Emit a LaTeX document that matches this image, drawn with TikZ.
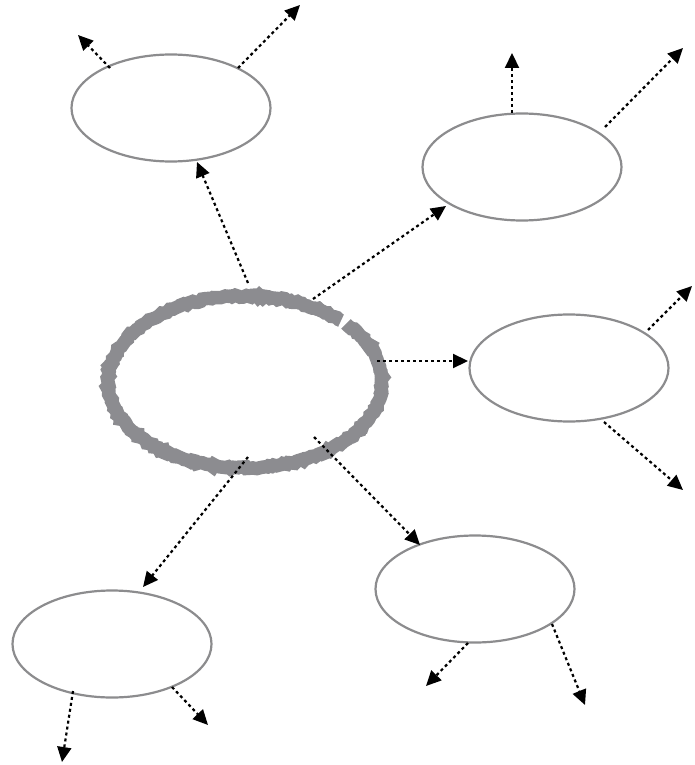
\documentclass[tikz,border=0pt]{standalone}
\usetikzlibrary{arrows.meta,shapes.geometric,calc,decorations.pathmorphing}
\definecolor{rim}{RGB}{140,140,142}
\definecolor{ring}{RGB}{140,140,144}
\begin{document}
\begin{tikzpicture}[x=1pt,y=-1pt,
  bub/.style={ellipse, draw=rim, line width=2.2pt, minimum width=199pt, minimum height=107pt, inner sep=0pt, outer sep=0pt},
  conn/.style={line width=2.2pt, dash pattern=on 3pt off 3pt, -{Triangle[length=15pt,width=14pt]}},
]
\useasboundingbox (0,0) rectangle (694,765);
\pgfmathsetseed{7}
% central ring
\node[ellipse, minimum width=286pt, minimum height=184pt, inner sep=0pt] (C) at (245,382) {};
\draw[ring, line width=13.5pt, decorate, decoration={random steps, segment length=2.5pt, amplitude=1.2pt}]
  (C.center) ++(45.5:137pt and 86pt) arc[start angle=45.5, end angle=402.5, x radius=137pt, y radius=86pt];
% outer ellipses
\node[bub] (tl) at (171,108) {};
\node[bub] (tr) at (522,167) {};
\node[bub] (r) at (569,368) {};
\node[bub] (br) at (475,589) {};
\node[bub] (bl) at (112,644) {};
% free ends
\coordinate (tl1) at (78,35);
\coordinate (tl2) at (300,5);
\coordinate (tr1) at (512,53);
\coordinate (tr2) at (683,48);
\coordinate (r1) at (692,286);
\coordinate (r2) at (683,490);
\coordinate (br1) at (426,686);
\coordinate (br2) at (585,705);
\coordinate (bl1) at (62,762);
\coordinate (bl2) at (208,725);
% connectors from centre
\draw[conn] ($(C)+(3,-99)$) -- ($(tl)+(26,54)$);
\draw[conn] ($(C)+(68,-83)$) -- ($(tr)+(-76,39)$);
\draw[conn] ($(C)+(132,-21)$) -- ($(r)+(-101,-7)$);
\draw[conn] ($(C)+(69,55)$) -- ($(br)+(-55,-44)$);
\draw[conn] ($(C)+(3,75)$) -- ($(bl)+(31,-57)$);
% outer connectors
\draw[conn] ($(tl)+(-61,-40)$) -- (tl1);
\draw[conn] ($(tl)+(67,-40)$) -- (tl2);
\draw[conn] ($(tr)+(-10,-54)$) -- (tr1);
\draw[conn] ($(tr)+(83,-40)$) -- (tr2);
\draw[conn] ($(r)+(79,-38)$) -- (r1);
\draw[conn] ($(r)+(35,54)$) -- (r2);
\draw[conn] ($(br)+(-7,54)$) -- (br1);
\draw[conn] ($(br)+(77,35)$) -- (br2);
\draw[conn] ($(bl)+(-39,47)$) -- (bl1);
\draw[conn] ($(bl)+(60,43)$) -- (bl2);
\end{tikzpicture}
\end{document}
